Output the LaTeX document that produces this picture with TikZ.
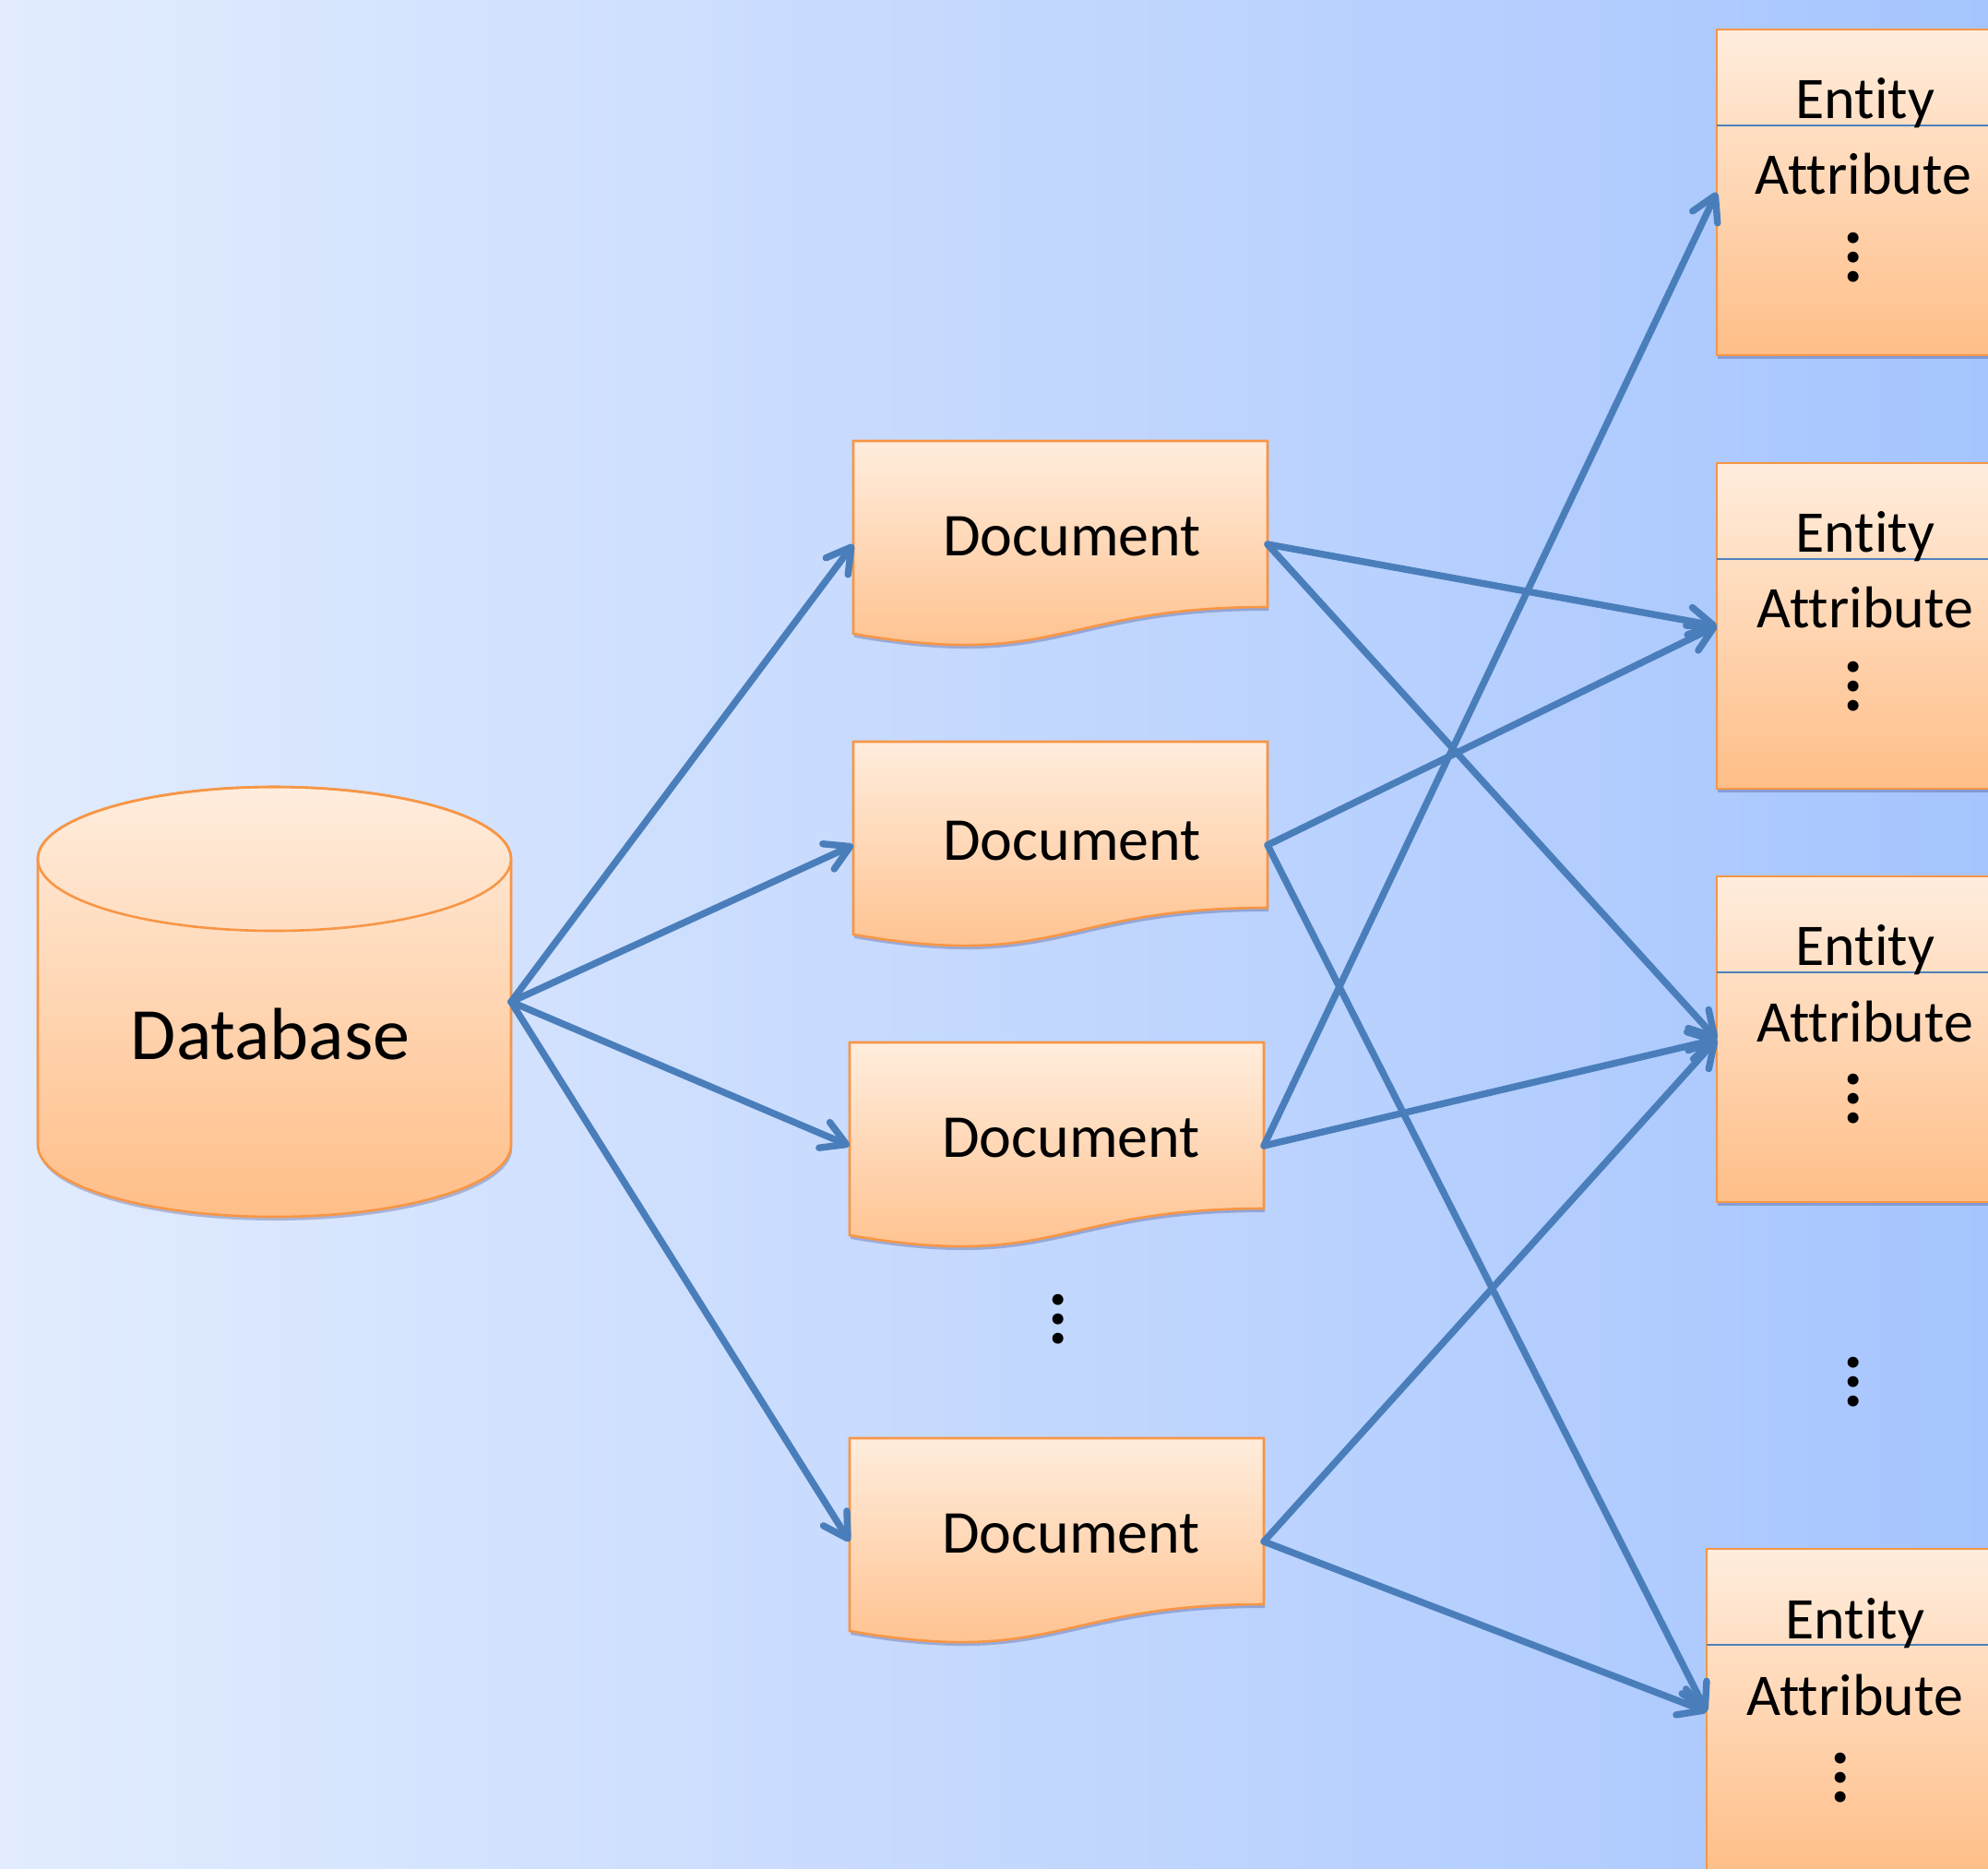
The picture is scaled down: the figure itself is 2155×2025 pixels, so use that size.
\documentclass[tikz,border=0pt]{standalone}
\usepackage{fontspec}
\setmainfont{Carlito}[Ligatures=NoCommon]
\usetikzlibrary{arrows.meta,shadows,calc}
\definecolor{bgL}{RGB}{226,236,254}
\definecolor{bgR}{RGB}{166,197,254}
\definecolor{orTop}{RGB}{255,237,221}
\definecolor{orBot}{RGB}{255,190,136}
\definecolor{orLine}{RGB}{247,150,70}
\definecolor{arrowBlue}{RGB}{74,126,187}
\definecolor{divBlue}{RGB}{79,129,189}
\tikzset{
  shapeshadow/.style={drop shadow={opacity=0.22, shadow xshift=0.6pt, shadow yshift=-2pt, fill=black!70!blue}},
  orangefill/.style={top color=orTop, bottom color=orBot, draw=orLine, line width=1.3pt, shapeshadow},
  hidden/.style={inner sep=0pt, outer sep=0pt, draw=none},
  entitybox/.style={orangefill, inner sep=0pt, outer sep=0pt, minimum width=159pt, minimum height=176.5pt, anchor=north west},
  docframe/.style={hidden, minimum width=224.5pt, minimum height=112pt, anchor=north west},
  conn/.style={draw=arrowBlue, line width=3.7pt, line cap=round, line join=round, -{Straight Barb[round,length=13pt,width=15pt]}},
  divider/.style={draw=divBlue, line width=1pt},
  doctext/.style={inner sep=0pt, font=\fontsize{33}{40}\selectfont},
  dbtext/.style={inner sep=0pt, font=\fontsize{40}{48}\selectfont},
  enttext/.style={inner sep=0pt, anchor=base, font=\fontsize{32}{38}\selectfont},
  vdots/.style={inner sep=0pt, align=center, font=\bfseries\fontsize{40}{10.5}\selectfont},
}
\newcommand\DocShape[2]{%
  \path[orangefill] (#1,#2) -- ({#1+449},#2) -- ({#1+449},{#2+180})
    .. controls ({#1+224.5},{#2+180}) and ({#1+224.5},{#2+248}) .. (#1,{#2+209}) -- cycle;}
\begin{document}
\begin{tikzpicture}[x=0.5pt,y=-0.5pt]
\useasboundingbox (0,0) rectangle (2155,2025);
\shade[left color=bgL, right color=bgR] (0,0) rectangle (2155,2025);
\clip (0,0) rectangle (2155,2025);

% Database cylinder
\path[orangefill] (41,931) -- (41,1241) arc[start angle=180, end angle=360, x radius=128.25pt, y radius=39pt]
  -- (554,931) arc[start angle=0, end angle=180, x radius=128.25pt, y radius=39pt] -- cycle;
\draw[orLine, line width=1.3pt] (297.5,931) ellipse [x radius=128.25pt, y radius=39pt];
\node[hidden, minimum width=256.5pt, minimum height=233pt] (db) at (297.5,1086) {};
\node[dbtext] (dbl) at (293,1121) {Database};

% Documents
\DocShape{925}{478}
\node[docframe] (d1) at (925,478) {};
\node[doctext] (d1l) at (1162,582) {Document};
\DocShape{925}{804}
\node[docframe] (d2) at (925,804) {};
\node[doctext] (d2l) at (1162,912) {Document};
\DocShape{921}{1130}
\node[docframe] (d3) at (921,1130) {};
\node[doctext] (d3l) at (1161,1234) {Document};
\DocShape{921}{1559}
\node[docframe] (d4) at (921,1559) {};
\node[doctext] (d4l) at (1161,1663) {Document};
\node[vdots] (ddots) at (1147,1430) {.\\.\\.};

% Entities
\node[entitybox] (e1) at (1861,32) {};
\draw[divider] ($(e1.north west)+(0,104)$) -- ($(e1.north east)+(0,104)$);
\node[enttext] (e1t) at (2022,128) {Entity};
\node[enttext] (e1a) at (2020,210) {Attribute};
\node[vdots] (e1d) at (2009,279) {.\\.\\.};

\node[entitybox] (e2) at (1861,502) {};
\draw[divider] ($(e2.north west)+(0,104)$) -- ($(e2.north east)+(0,104)$);
\node[enttext] (e2t) at (2022,598) {Entity};
\node[enttext] (e2a) at (2022,680) {Attribute};
\node[vdots] (e2d) at (2009,744) {.\\.\\.};

\node[entitybox] (e3) at (1861,950) {};
\draw[divider] ($(e3.north west)+(0,104)$) -- ($(e3.north east)+(0,104)$);
\node[enttext] (e3t) at (2022,1046) {Entity};
\node[enttext] (e3a) at (2022,1129) {Attribute};
\node[vdots] (e3d) at (2009,1191) {.\\.\\.};

\node[entitybox] (e4) at (1850,1679) {};
\draw[divider] ($(e4.north west)+(0,104)$) -- ($(e4.north east)+(0,104)$);
\node[enttext] (e4t) at (2011,1776) {Entity};
\node[enttext] (e4a) at (2011,1859) {Attribute};
\node[vdots] (e4d) at (1995,1927) {.\\.\\.};

\node[vdots] (edots) at (2009,1498) {.\\.\\.};

% Connectors
\draw[conn] (db.east) -- (d1.west);
\draw[conn] (db.east) -- (d2.west);
\draw[conn] (db.east) -- (d3.west);
\draw[conn] (db.east) -- (d4.west);
\draw[conn] (d1.east) -- (e2.west);
\draw[conn] (d1.east) -- (e3.west);
\draw[conn] (d2.east) -- (e2.west);
\draw[conn] (d2.east) -- (e4.west);
\draw[conn] (d3.east) -- (e1.west);
\draw[conn] (d3.east) -- (e3.west);
\draw[conn] (d4.east) -- (e3.west);
\draw[conn] (d4.east) -- (e4.west);
\end{tikzpicture}
\end{document}
